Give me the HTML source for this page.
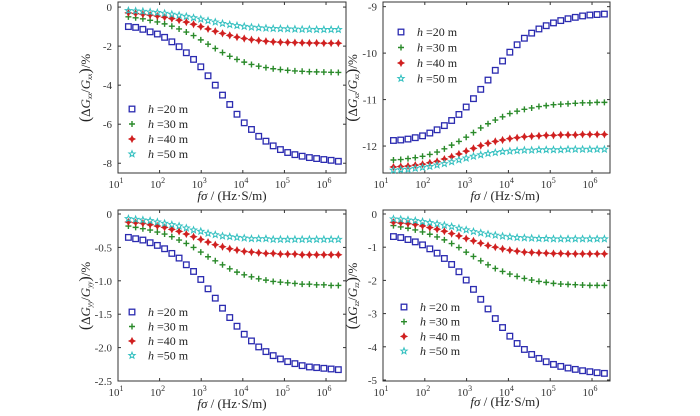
<!DOCTYPE html>
<html><head><meta charset="utf-8"><style>
html,body{margin:0;padding:0;background:#fff;}
svg{display:block;font-family:"Liberation Serif",serif;}
</style></head><body>
<svg id="c" width="700" height="416" viewBox="0 0 700 416"></svg>
<script>
const logX = [];
for (let i = 0; i < 30; i++) logX.push(1.25 + i * 0.174);
const seriesNames = ["h20","h30","h40","h50"];
const legendLabels = ["=20 m","=30 m","=40 m","=50 m"];
const xTickExps = [1,2,3,4,5,6];

const gxxH20 = [-1.0,-1.04,-1.14,-1.27,-1.38,-1.55,-1.78,-2.03,-2.34,-2.68,-3.06,-3.52,-4.0,-4.51,-4.99,-5.49,-5.93,-6.27,-6.62,-6.87,-7.11,-7.3,-7.45,-7.56,-7.64,-7.71,-7.76,-7.81,-7.85,-7.9];
const gxxH30 = [-0.5,-0.55,-0.6,-0.68,-0.76,-0.86,-0.98,-1.12,-1.28,-1.46,-1.68,-1.9,-2.12,-2.33,-2.52,-2.68,-2.82,-2.94,-3.03,-3.1,-3.16,-3.2,-3.24,-3.27,-3.29,-3.31,-3.32,-3.33,-3.34,-3.35];
const gxxH40 = [-0.3,-0.33,-0.37,-0.41,-0.46,-0.52,-0.59,-0.67,-0.77,-0.88,-1.0,-1.12,-1.24,-1.35,-1.45,-1.54,-1.61,-1.67,-1.71,-1.75,-1.78,-1.8,-1.81,-1.82,-1.83,-1.84,-1.84,-1.85,-1.85,-1.85];
const gxxH50 = [-0.18,-0.2,-0.22,-0.25,-0.28,-0.32,-0.37,-0.42,-0.48,-0.55,-0.62,-0.7,-0.77,-0.84,-0.9,-0.95,-0.99,-1.03,-1.06,-1.08,-1.1,-1.11,-1.12,-1.13,-1.14,-1.14,-1.15,-1.15,-1.15,-1.15];

const gxzH20 = [-11.88,-11.87,-11.85,-11.82,-11.78,-11.72,-11.65,-11.56,-11.45,-11.32,-11.16,-10.98,-10.78,-10.58,-10.37,-10.17,-9.98,-9.82,-9.68,-9.57,-9.48,-9.41,-9.35,-9.3,-9.26,-9.23,-9.2,-9.18,-9.17,-9.16];
const gxzH30 = [-12.3,-12.29,-12.27,-12.25,-12.22,-12.18,-12.13,-12.06,-11.98,-11.9,-11.81,-11.71,-11.61,-11.52,-11.44,-11.37,-11.3,-11.25,-11.21,-11.18,-11.15,-11.13,-11.11,-11.1,-11.09,-11.08,-11.07,-11.07,-11.06,-11.06];
const gxzH40 = [-12.45,-12.44,-12.43,-12.41,-12.39,-12.36,-12.33,-12.28,-12.23,-12.17,-12.11,-12.05,-11.99,-11.94,-11.9,-11.87,-11.84,-11.82,-11.8,-11.79,-11.78,-11.77,-11.77,-11.76,-11.76,-11.76,-11.75,-11.75,-11.75,-11.75];
const gxzH50 = [-12.52,-12.51,-12.5,-12.48,-12.46,-12.44,-12.41,-12.38,-12.34,-12.3,-12.26,-12.22,-12.19,-12.16,-12.14,-12.12,-12.11,-12.1,-12.09,-12.09,-12.08,-12.08,-12.08,-12.08,-12.07,-12.07,-12.07,-12.07,-12.07,-12.07];

const gyyH20 = [-0.35,-0.37,-0.39,-0.43,-0.47,-0.52,-0.59,-0.66,-0.76,-0.86,-0.98,-1.12,-1.26,-1.41,-1.55,-1.68,-1.8,-1.9,-1.99,-2.06,-2.12,-2.17,-2.21,-2.24,-2.27,-2.29,-2.3,-2.31,-2.32,-2.33];
const gyyH30 = [-0.18,-0.2,-0.22,-0.24,-0.27,-0.3,-0.34,-0.39,-0.44,-0.5,-0.57,-0.64,-0.7,-0.76,-0.82,-0.87,-0.91,-0.94,-0.97,-0.99,-1.01,-1.02,-1.03,-1.04,-1.05,-1.05,-1.06,-1.06,-1.07,-1.07];
const gyyH40 = [-0.12,-0.13,-0.14,-0.16,-0.18,-0.2,-0.23,-0.26,-0.3,-0.34,-0.38,-0.42,-0.46,-0.49,-0.52,-0.54,-0.56,-0.57,-0.58,-0.59,-0.59,-0.6,-0.6,-0.6,-0.61,-0.61,-0.61,-0.61,-0.61,-0.61];
const gyyH50 = [-0.07,-0.08,-0.09,-0.1,-0.12,-0.14,-0.16,-0.18,-0.21,-0.24,-0.26,-0.29,-0.31,-0.33,-0.34,-0.35,-0.36,-0.37,-0.37,-0.37,-0.38,-0.38,-0.38,-0.38,-0.38,-0.38,-0.38,-0.38,-0.38,-0.38];

const gzzH20 = [-0.68,-0.71,-0.77,-0.84,-0.93,-1.05,-1.18,-1.34,-1.52,-1.74,-1.99,-2.27,-2.57,-2.86,-3.15,-3.42,-3.68,-3.9,-4.08,-4.23,-4.35,-4.45,-4.53,-4.59,-4.64,-4.68,-4.72,-4.75,-4.78,-4.8];
const gzzH30 = [-0.35,-0.39,-0.43,-0.48,-0.54,-0.61,-0.69,-0.78,-0.89,-1.01,-1.15,-1.28,-1.41,-1.53,-1.64,-1.73,-1.81,-1.88,-1.94,-1.99,-2.03,-2.06,-2.09,-2.11,-2.12,-2.13,-2.14,-2.15,-2.15,-2.15];
const gzzH40 = [-0.25,-0.27,-0.29,-0.32,-0.36,-0.41,-0.46,-0.52,-0.59,-0.66,-0.74,-0.81,-0.88,-0.95,-1.0,-1.05,-1.09,-1.12,-1.15,-1.16,-1.17,-1.18,-1.19,-1.19,-1.2,-1.2,-1.2,-1.2,-1.2,-1.2];
const gzzH50 = [-0.15,-0.16,-0.18,-0.2,-0.23,-0.26,-0.3,-0.34,-0.38,-0.43,-0.48,-0.53,-0.57,-0.61,-0.64,-0.67,-0.69,-0.71,-0.72,-0.73,-0.74,-0.74,-0.75,-0.75,-0.75,-0.75,-0.75,-0.75,-0.75,-0.75];

const yTicksXX = [0,-2,-4,-6,-8];
const yTicksXZ = [-9,-10,-11,-12];
const yTicksYY = [0,-0.5,-1.0,-1.5,-2.0,-2.5];
const yTicksZZ = [0,-1,-2,-3,-4,-5];

const panels = [
 {name:"gxx", sub:"xx", L:118,R:346,T:2,B:173,xmin:1,xmax:6.48,ymin:-8.5,ymax:0.26,ticks:yTicksXX,fmt:v=>String(v),series:[gxxH20,gxxH30,gxxH40,gxxH50],leg:[132,109,15],xl:[232,200],yl:[90,88]},
 {name:"gxz", sub:"xz", L:383,R:610,T:2,B:173,xmin:1,xmax:6.43,ymin:-12.58,ymax:-8.9,ticks:yTicksXZ,fmt:v=>String(v),series:[gxzH20,gxzH30,gxzH40,gxzH50],leg:[401,32,15.5],xl:[505,200],yl:[357,88]},
 {name:"gyy", sub:"yy", L:118,R:346,T:210,B:381,xmin:1,xmax:6.48,ymin:-2.5,ymax:0.06,ticks:yTicksYY,fmt:v=>v===0?"0":v.toFixed(1),series:[gyyH20,gyyH30,gyyH40,gyyH50],leg:[132,312,14.5],xl:[232,408],yl:[90,296]},
 {name:"gzz", sub:"zz", L:383,R:610,T:210,B:381,xmin:1,xmax:6.43,ymin:-5.03,ymax:0.12,ticks:yTicksZZ,fmt:v=>String(v),series:[gzzH20,gzzH30,gzzH40,gzzH50],leg:[404,307,14.7],xl:[505,406],yl:[357,296]}
];
const colors = ["#2b2bb0","#2a8a2a","#d02020","#33c0c0"];
const NS = "http://www.w3.org/2000/svg";
const svg = document.getElementById("c");
function mk(tag, attrs, parent){ const e=document.createElementNS(NS,tag); for(const k in attrs) e.setAttribute(k,attrs[k]); (parent||svg).appendChild(e); return e; }

function marker(g, k, x, y){
  const c = colors[k];
  let m;
  if(k===0){ m=mk("rect",{x:x-2.8,y:y-2.8,width:5.6,height:5.6,fill:"none",stroke:c,"stroke-width":1.3},g); }
  else if(k===1){ m=mk("path",{d:`M${x-3},${y}H${x+3}M${x},${y-3}V${y+3}`,stroke:c,"stroke-width":1.4,fill:"none"},g); }
  else if(k===2){ m=mk("path",{d:`M${x},${y-3}L${x+1},${y-1}L${x+3},${y}L${x+1},${y+1}L${x},${y+3}L${x-1},${y+1}L${x-3},${y}L${x-1},${y-1}Z`,fill:c,stroke:c,"stroke-width":1},g); }
  else { let d=""; for(let i=0;i<10;i++){const r=i%2?1.4:3.3; const a=-Math.PI/2+i*Math.PI/5; d+=(i?"L":"M")+(x+r*Math.cos(a)).toFixed(2)+","+(y+r*Math.sin(a)).toFixed(2);} m=mk("path",{d:d+"Z",fill:"none",stroke:c,"stroke-width":1},g); }
  return m;
}

panels.forEach(p=>{
  const g = mk("g",{});
  
  
  const sx = v => p.L + (v-p.xmin)/(p.xmax-p.xmin)*(p.R-p.L);
  const sy = v => p.B - (v-p.ymin)/(p.ymax-p.ymin)*(p.B-p.T);
  const box = mk("rect",{x:p.L,y:p.T,width:p.R-p.L,height:p.B-p.T,fill:"#fff",stroke:"#333","stroke-width":1},g);
  
  
  xTickExps.forEach(e=>{
    const x=sx(e);
    mk("line",{x1:x,x2:x,y1:p.B,y2:p.B-3,stroke:"#333"},g);
    mk("line",{x1:x,x2:x,y1:p.T,y2:p.T+3,stroke:"#333"},g);
    const t=mk("text",{x:x-2,y:p.B+15,"font-size":11,"text-anchor":"middle",fill:"#333"},g);
    
    
    t.textContent="10";
    const s=mk("tspan",{dy:-5,"font-size":8},t); s.textContent=String(e);
  });
  p.ticks.forEach(v=>{
    const y=sy(v);
    mk("line",{x1:p.L,x2:p.L+3,y1:y,y2:y,stroke:"#333"},g);
    mk("line",{x1:p.R,x2:p.R-3,y1:y,y2:y,stroke:"#333"},g);
    const t=mk("text",{x:p.L-6,y:y+4,"font-size":11,"text-anchor":"end",fill:"#333"},g);
    
    
    t.textContent=p.fmt(v);
  });
  p.series.forEach((arr,k)=>{
    const sg=mk("g",{},g);
    
    
    arr.forEach((v,i)=>{ const m=marker(sg,k,sx(logX[i]),sy(v));
      
       });
  });
  const lg=mk("g",{},g);
  
  
  legendLabels.forEach((lab,k)=>{
    const y=p.leg[1]+k*p.leg[2];
    marker(lg,k,p.leg[0],y);
    const t=mk("text",{x:p.leg[0]+16,y:y+4,"font-size":12,fill:"#222"},lg);
    
    
    const h=mk("tspan",{"font-style":"italic"},t); h.textContent="h ";
    const r=mk("tspan",{},t); r.textContent=lab;
  });
  const xl=mk("text",{x:p.xl[0],y:p.xl[1],"font-size":13,"text-anchor":"middle",fill:"#222"},g);
  
  
  const a=mk("tspan",{"font-style":"italic"},xl); a.textContent="fσ";
  const b=mk("tspan",{},xl); b.textContent=" / (Hz·S/m)";
  const yl=mk("text",{transform:`translate(${p.yl[0]},${p.yl[1]}) rotate(-90)`,"font-size":13,"text-anchor":"middle",fill:"#222"},g);
  
  
  const p1=mk("tspan",{"font-size":16},yl); p1.textContent="(";
  const d=mk("tspan",{},yl); d.textContent="Δ";
  const g1=mk("tspan",{"font-style":"italic"},yl); g1.textContent="G";
  const s1=mk("tspan",{"font-size":7,dy:2,"font-style":"italic"},yl); s1.textContent=p.sub;
  const sl=mk("tspan",{dy:-2},yl); sl.textContent="/";
  const g2=mk("tspan",{"font-style":"italic"},yl); g2.textContent="G";
  const s2=mk("tspan",{"font-size":7,dy:2,"font-style":"italic"},yl); s2.textContent=p.sub;
  const p2=mk("tspan",{"font-size":16,dy:-2},yl); p2.textContent=")";
  const pc=mk("tspan",{},yl); pc.textContent="/%";
});
</script>
</body></html>
